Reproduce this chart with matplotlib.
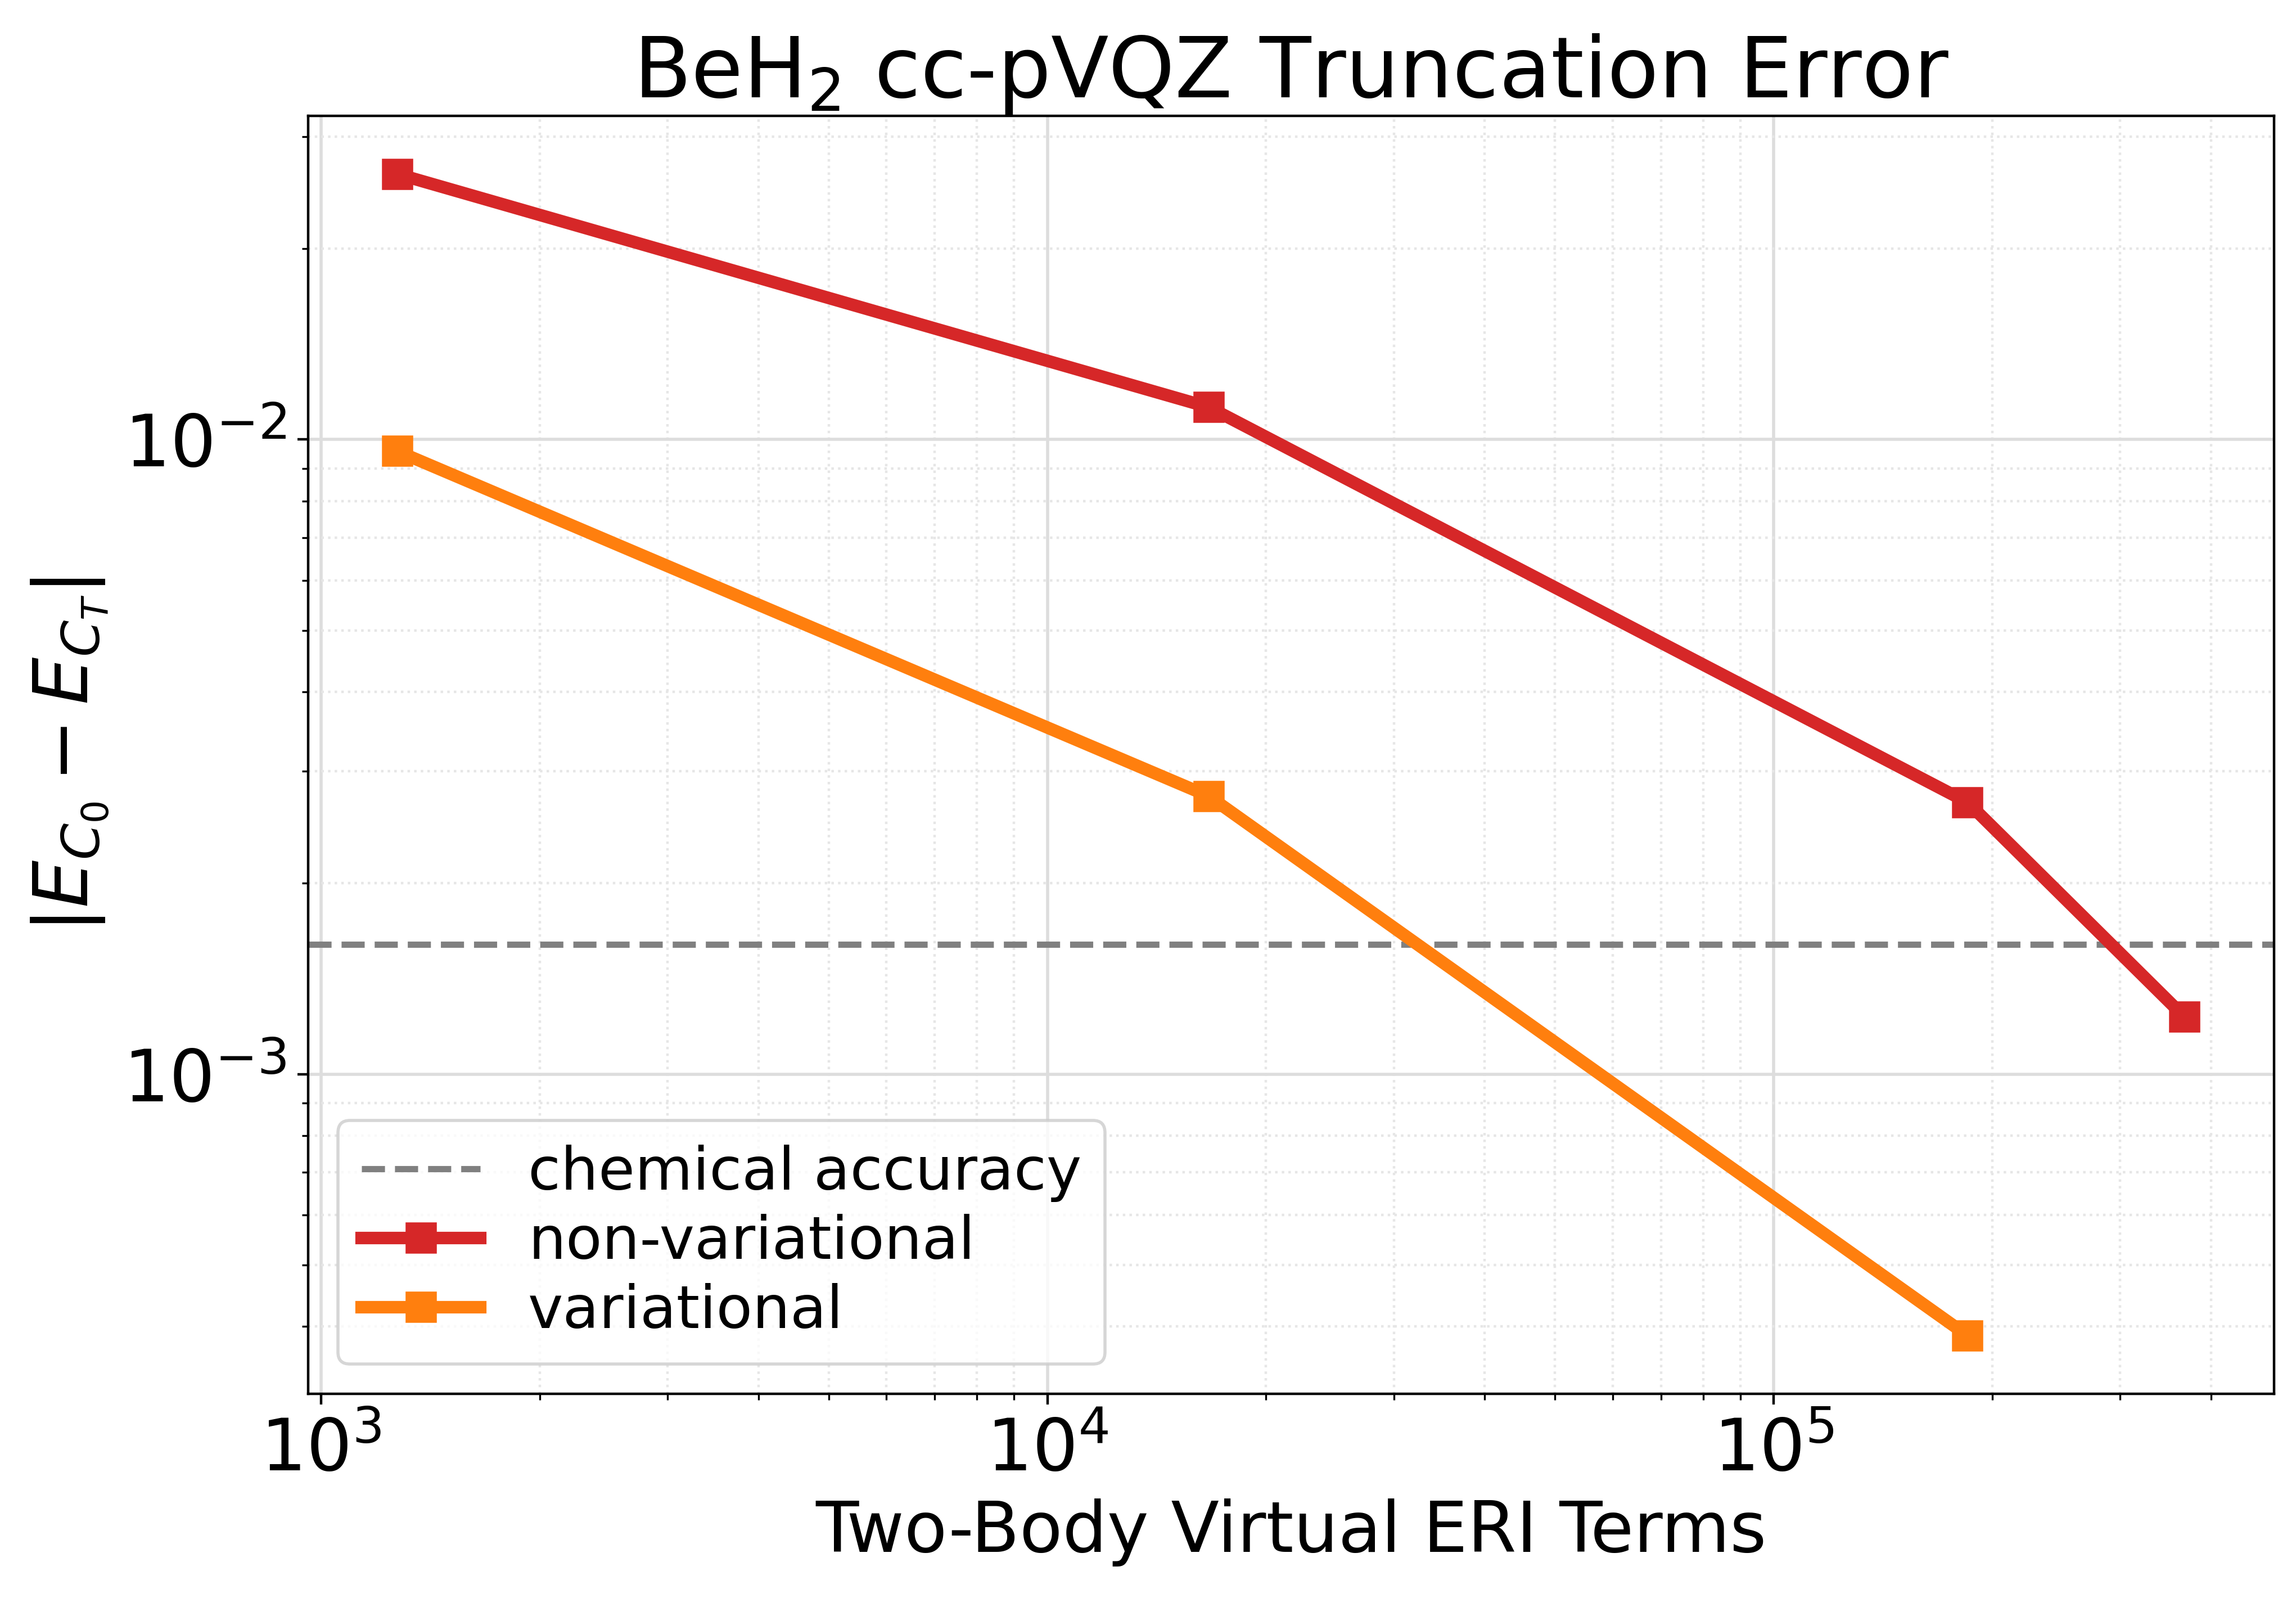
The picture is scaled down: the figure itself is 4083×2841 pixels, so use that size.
import matplotlib
matplotlib.use("Agg")
import matplotlib.pyplot as plt

# ERI term counts and truncation errors (Hartree)
nonvar_terms = [1275, 16700, 185000, 368000]
nonvar_err = [0.0262, 0.01124, 0.00268, 0.00123]

var_terms = [1275, 16700, 185000]
var_err = [0.00958, 0.00274, 0.000387]

CHEM_ACC = 0.0016

fig, ax = plt.subplots(figsize=(4083 / 400, 2841 / 400), dpi=400)
fig.subplots_adjust(left=0.1343, right=0.9904, bottom=0.1278, top=0.9274)

ax.axhline(CHEM_ACC, color='gray', linestyle='--', linewidth=2, label='chemical accuracy')
ax.plot(nonvar_terms, nonvar_err, color='tab:red', marker='s', markersize=9,
        linewidth=4, label='non-variational')
ax.plot(var_terms, var_err, color='tab:orange', marker='s', markersize=9,
        linewidth=4, label='variational')

ax.set_xscale('log')
ax.set_yscale('log')
ax.grid(True, which='major', color='#dddddd', linewidth=1)
ax.grid(True, which='minor', color='#e6e6e6', linestyle=':', linewidth=0.8)
ax.set_axisbelow(True)

ax.set_title(r'BeH$_2$ cc-pVQZ Truncation Error', fontsize=27)
ax.set_xlabel('Two-Body Virtual ERI Terms', fontsize=22.5)
ax.set_ylabel(r'$|E_{C_0} - E_{C_T}|$', fontsize=24)
ax.tick_params(axis='both', which='major', labelsize=23)
ax.legend(loc='lower left', fontsize=19, labelspacing=0.2)

fig.savefig('out.png', dpi=400)
